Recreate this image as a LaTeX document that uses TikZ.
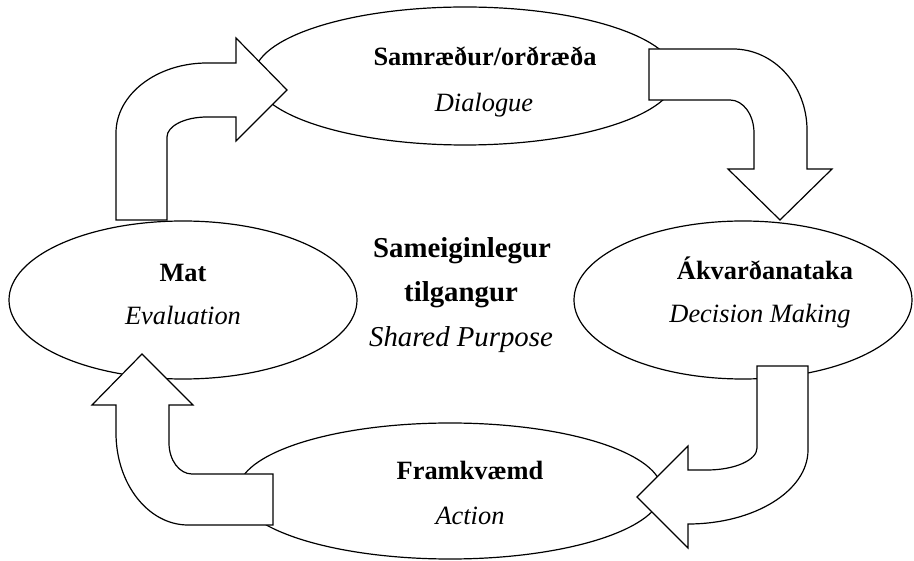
\documentclass[tikz,border=0pt]{standalone}
\usepackage{fontspec}
\setmainfont{Liberation Serif}
\usetikzlibrary{shapes.geometric}

\begin{document}
\begin{tikzpicture}[
    x=1pt, y=-1pt,
    stage/.style={ellipse, draw=black, line width=1.2pt, fill=white, inner sep=0pt},
    bentarrow/.style={draw=black, line width=1.2pt, fill=white, line join=miter},
    boldtxt/.style={anchor=base, inner sep=0pt, font=\fontsize{26.4}{30}\selectfont\bfseries},
    itxt/.style={anchor=base, inner sep=0pt, font=\fontsize{26.4}{30}\selectfont\itshape},
    hubbold/.style={boldtxt, font=\fontsize{28.8}{34}\selectfont\bfseries},
    hubital/.style={itxt, font=\fontsize{28.8}{34}\selectfont\itshape},
]
    \useasboundingbox (0,0) rectangle (914,561);

    \node[stage, minimum width=348pt, minimum height=158pt] (evaluation) at (183,300) {};
    \node[stage, minimum width=338pt, minimum height=158pt] (decision) at (743,300) {};
    \node[stage, minimum width=424pt, minimum height=136pt] (action) at (450,491) {};
    \node[stage, minimum width=422pt, minimum height=138pt] (dialogue) at (465,76) {};

    \draw[bentarrow] (116,220) -- (116,133)
        arc[start angle=180, end angle=270, x radius=91, y radius=70]
        -- (236,63) -- (236,38) -- (287,90) -- (236,141) -- (236,117) -- (207,117)
        arc[start angle=270, end angle=180, x radius=40, y radius=20]
        -- (167,220) -- cycle;
    \draw[bentarrow] (649,49) -- (733,49)
        arc[start angle=270, end angle=360, x radius=74, y radius=81]
        -- (807,169) -- (832,169) -- (780,220) -- (728,169) -- (754,169) -- (754,133)
        arc[start angle=0, end angle=-90, x radius=24, y radius=33]
        -- (649,100) -- cycle;
    \draw[bentarrow] (757,366) -- (808,366) -- (808,450)
        arc[start angle=0, end angle=90, x radius=120, y radius=74]
        -- (688,548) -- (637,497) -- (688,446) -- (688,470) -- (707,470)
        arc[start angle=90, end angle=0, x radius=50, y radius=22]
        -- cycle;
    \draw[bentarrow] (273,474) -- (273,525) -- (188,525)
        arc[start angle=90, end angle=180, x radius=72, y radius=92]
        -- (116,405) -- (92,405) -- (142,354) -- (193,405) -- (169,405) -- (169,443)
        arc[start angle=180, end angle=90, x radius=23, y radius=31]
        -- cycle;

    \node[boldtxt] (dialogue-is) at (485,66) {Samræður/orðræða};
    \node[itxt] (dialogue-en) at (484,112) {Dialogue};
    \node[boldtxt] (evaluation-is) at (183,282) {Mat};
    \node[itxt] (evaluation-en) at (183,325) {Evaluation};
    \node[boldtxt] (decision-is) at (765,280) {Ákvarðanataka};
    \node[itxt] (decision-en) at (760,323) {Decision Making};
    \node[boldtxt] (action-is) at (470,480) {Framkvæmd};
    \node[itxt] (action-en) at (470,525) {Action};

    \node[hubbold] (purpose-is1) at (462,258) {Sameiginlegur};
    \node[hubbold] (purpose-is2) at (461,302) {tilgangur};
    \node[hubital] (purpose-en) at (461,347) {Shared Purpose};
\end{tikzpicture}
\end{document}
